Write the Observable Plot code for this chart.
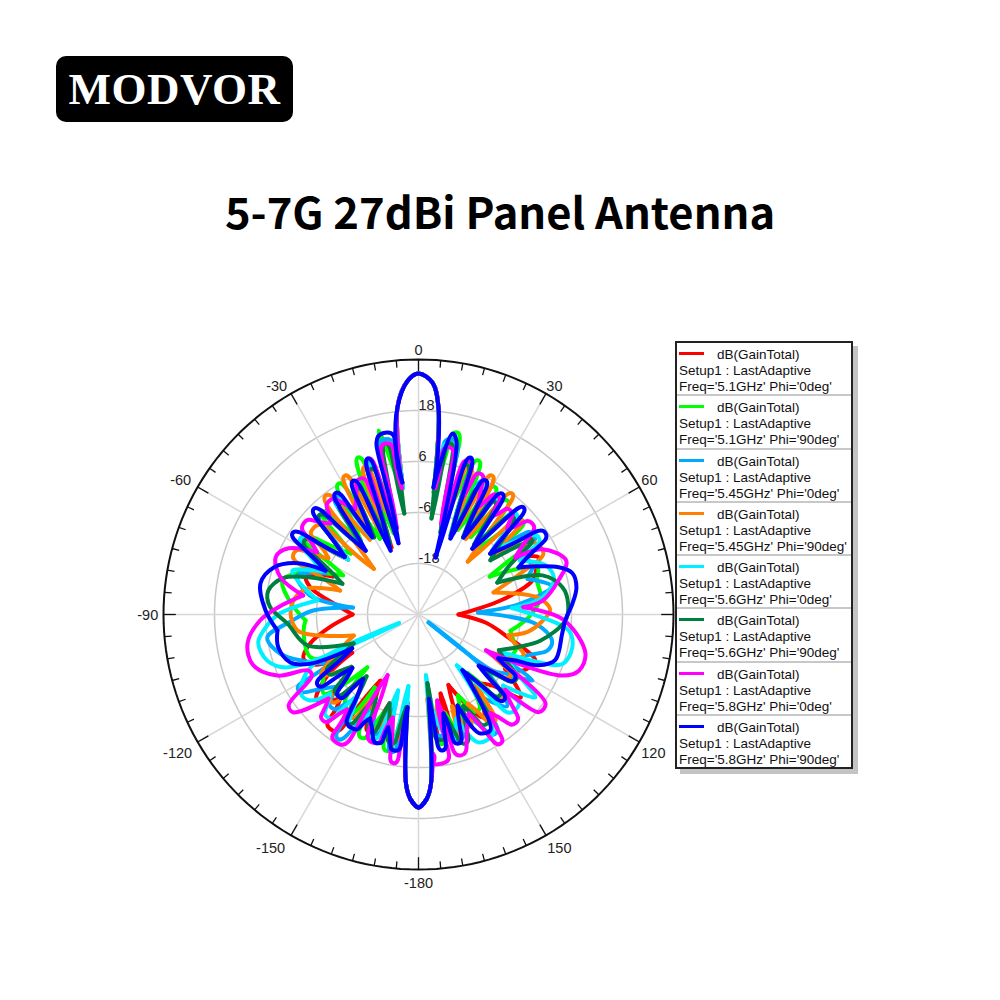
<!DOCTYPE html>
<html>
<head>
<meta charset="utf-8">
<script src="https://cdn.jsdelivr.net/npm/d3@7"></script>
<script src="https://cdn.jsdelivr.net/npm/@observablehq/plot@0.6"></script>
<style>
html,body{margin:0;padding:0;background:#fff}
#page{position:relative;width:1000px;height:1000px;overflow:hidden}
#logo{position:absolute;left:56px;top:56px;width:237px;height:66px;background:#000;border-radius:10px;color:#fff;
 font:bold 45px "Liberation Serif",serif;line-height:66px;text-align:center;letter-spacing:.5px}
#title{position:absolute;left:0;top:179px;width:1000px;text-align:center;font:bold 43.5px "Noto Sans CJK SC","Noto Sans",sans-serif;line-height:64px;color:#000}
#chart{position:absolute;left:0;top:330px}
#legend{position:absolute;left:675px;top:341px;width:174px;height:424px;border:2px solid #222;background:#fff;box-shadow:5px 5px 0 #c4c4c4;
 font:13.5px "Liberation Sans",Arial,sans-serif;color:#111;overflow:hidden}
.row{position:relative;height:53.3px;box-sizing:border-box;border-bottom:2px solid #c8c8c8}
.row:last-child{border-bottom:none}
.row i{position:absolute;left:2px;top:9px;width:25px;height:3px}
.row span{position:absolute;left:2px;white-space:nowrap}
</style>
</head>
<body>
<div id="page">
<div id="logo">MODVOR</div>
<div id="title">5-7G 27dBi Panel Antenna</div>
<div id="chart"></div>
<div id="legend"></div>
</div>
<script>
const seriesFreq = ["5.1GHz","5.1GHz","5.45GHz","5.45GHz","5.6GHz","5.6GHz","5.8GHz","5.8GHz"];
const seriesPhi = ["0deg","90deg","0deg","90deg","0deg","90deg","0deg","90deg"];
const seriesColors = ["#ff0000","#00ff00","#00aaff","#ff8000","#00f0ff","#008040","#ff00ff","#0000ff"];

const mainLobe = [[-5.8,19],[-2.7,25],[0,26.7],[3.5,24.6],[5.5,19]];
const backStart = [[-182.5,13.5],[-180,15.4],[-177.5,13.5],[-175.8,10]];
const backEnd = [[175.8,10],[177.5,13.5],[180,15.4],[182.5,13.5]];

const gainRed = [...backStart,[-173,-9],[-168,0],[-162,-8],[-157,0],[-150,-12],[-143,4],[-137,-3],[-130,1.3],[-124,-4],[-120,-12],[-116,-3],[-111,-1],[-105,-3.6],[-98,-9],[-90,-14.5],[-84,-11],[-76,-3.8],[-71,-2],[-66,-8],[-57,3],[-52,-9],[-45,3],[-40,-9],[-35,3],[-30,-9],[-26,4],[-22,-13],[-18,7],[-15,-7],[-10.5,10],[-7,1],
 ...mainLobe,[7,1],[10.5,11],[15,-6],[18,7],[22,-9],[26,4],[30,-8],[35,3],[39,-9],[44,2],[50,-7],[55,2],[60,-3],[64.6,1.3],[68,0],[73.4,-2],[80,-10],[90,-20.6],[97,-14],[103.6,-8.9],[111.5,-0.4],[115,-1],[118,-2],[122,-6],[129,1],[134,-6],[140,-9],[147.6,-1.3],[152,-6],[157,-12],[162,0],[164.4,-10.7],[169,0],[173,-9],...backEnd];

const gainLime = [...backStart,[-172.5,-9],[-167,3],[-161,-6],[-155,2],[-149,-10],[-146,-2],[-140,-3],[-136,-12.7],[-130,-1],[-122,-4],[-117,-8],[-111.7,-2.7],[-98,-2.7],[-93,-3.4],[-85,0.1],[-76,3],[-71,0],[-62.5,-10],[-56,2],[-48,-8.6],[-43,3],[-38,-8],[-31.4,6.1],[-27,-10],[-21,9.6],[-17,-10],[-12.3,14.3],[-9,3],[-7,0],
 ...mainLobe,[7,-1],[12,13.8],[15,-6],[21.3,8.9],[25,-8],[31,5],[34,-8],[38,4],[42,-9],[48,3],[52,-7],[56,3],[62,-11],[68.4,0.1],[74,-1],[82,-1],[91.5,-4.1],[100,-8],[112,-5.8],[118,-10],[124,-3],[130,-9],[135,-3],[140,-12],[148.4,-3.4],[154,-8.8],[160,0],[165,-6],[170,1],[173,-10],...backEnd];

const gainSky = [...backStart,[-172,-9],[-169,3],[-165,-8],[-160,0],[-155,-6],[-147,4.9],[-143,-5],[-137,0],[-131,-4],[-122,3.4],[-119,-6],[-112,-0.8],[-106,3.7],[-98.7,6],[-93,0],[-88,-5],[-84,-14.5],[-80,-4],[-72,0],[-66,-6],[-57,3],[-52,-8],[-45,3],[-40,-9],[-35,4],[-31,-8],[-26,4],[-22,-12],[-18,8],[-15,-9],[-11,12],[-7,1],
 ...mainLobe,[7,1],[11,12],[15,-9],[18,8],[22,-10],[26,5],[30,-8],[35,3],[39,-9],[44,3],[49,-7],[55,3],[60,-2],[66,-1],[72,-3],[78,2],[84,-6],[88,-16],[94.4,-2.5],[101,2],[105.6,1.5],[111,-3],[118,-6],[120,1],[124,-5],[127,-8],[128.5,-27],[130,-9],[136,0],[142,-5],[147,3.4],[155,-4],[162,1],[166,-5],[170,-1],[173,-12],...backEnd];

const gainOrange = [...backStart,[-173,-8],[-169,0],[-164,-6],[-158,-1],[-152,-8],[-146.6,-1],[-140,-10],[-135,-1],[-128,-10],[-122,-3],[-115,-9],[-108,-14],[-101.7,-5.8],[-97.5,-1.3],[-89.5,0.1],[-82,-0.8],[-76.8,-3.2],[-73,-10.7],[-64,2.7],[-58,-5],[-50,2],[-44.4,-15],[-38,5.5],[-33,-9],[-28,7],[-24,-10],[-20,7],[-16,-8],[-11,11],[-7,0],
 ...mainLobe,[7,0],[11,11],[16,-8],[19,7],[24,-8],[28,7],[32,-9],[37.8,6],[43,-13],[47,3],[52,-8],[58,2],[64,2.7],[68,-4],[73.6,-11.6],[82,-1.5],[88,1],[93,-0.8],[99,-4],[103,-8.3],[112.5,-3.5],[118,-11],[124,-4],[130,-11],[135,-2],[140,-9],[145,1],[151,-6],[156,-1],[160,-7],[163,0.2],[168,-9],[172,-4],[174,-10],...backEnd];

const gainCyan = [...backStart,[-172,-13],[-168,0],[-165,-11.5],[-160,1],[-155,-5],[-149,1],[-143,-6],[-138.5,2.3],[-132,-2],[-128.5,2.5],[-124,3.4],[-116,-1.8],[-114,-25],[-112,3.2],[-107,7.2],[-100,8.3],[-96,6.7],[-90,3],[-82,-6],[-75,-1],[-70.8,1.4],[-66,-5],[-57,3],[-52,-9],[-45,3],[-40,-9],[-35,3],[-31,-9],[-26,3],[-22,-11],[-18,7],[-15,-8],[-10.8,11],[-7,0],
 ...mainLobe,[7,0],[10.8,11],[15,-10],[18,7],[22,-9],[26,4],[30,-8],[34,3],[39,-8],[44,3],[49,-6],[57.3,3.6],[62,-3],[68.6,2],[75,3],[82.2,-0.6],[86,-8],[90,-3],[96,5.5],[102,7],[109,5.8],[112,-1],[114,-8],[120,-4],[125.4,3.7],[130,-4],[134.7,2],[143,-15],[148,3],[155,3.2],[160,-4],[165,1],[170,-4],[173,-15.6],...backEnd];

const gainDarkGreen = [...backStart,[-172.5,-8],[-168,1],[-162,-8],[-158,0],[-153,-8],[-147,0.6],[-140,-11],[-134,-3],[-128,-10],[-122.5,-4.6],[-114,-13.3],[-105.6,-2.9],[-94,0.9],[-87,5],[-81,5.8],[-75,3],[-71,-3.2],[-68,-10.7],[-57,2],[-52,-8],[-45,3],[-40,-9],[-35,2],[-30,-9],[-26,3],[-22,-12],[-18,6],[-15,-9],[-11,11],[-8,-6],
 ...mainLobe,[7.7,-7.2],[10.6,11],[15,-10],[18,7],[22.5,-10],[26,3],[30,-9],[34,2],[38.5,-9],[44,2],[53,-8.8],[57,2],[62,-6],[68,-10],[72.5,0.6],[79.4,4.5],[85.8,5.3],[92.3,4.6],[102,-0.6],[108,-5.3],[114,-9.3],[124,-2.4],[130,-10],[135,-3],[141,-12],[147.7,0.4],[154,-6],[160,2.3],[166,-6],[170,0],[172.6,-13.7],...backEnd];

const gainMagenta = [...backStart,[-173,-6],[-170.5,5.5],[-166,-5],[-160,2],[-153,-14],[-148,5.8],[-143,-2],[-138,3.6],[-133,-1],[-128,7.4],[-125,7.3],[-120,-1],[-117,-1],[-113.4,6.2],[-107,10.7],[-99.6,10.8],[-92,7.2],[-87,3],[-80.6,-2.5],[-75,3.6],[-68,6.2],[-63,4.3],[-58.4,-2],[-51.6,4.5],[-44,-0.2],[-38,4],[-31,-1],[-23,4.8],[-20,-4],[-17.8,8.6],[-14,-9],[-11,11],[-7.5,0],
 ...mainLobe,[7.5,0],[10.5,10],[14,-8],[18,8],[20.5,-1],[23.7,6.2],[29,-1],[33.6,3.6],[37,-1],[41.5,2.7],[46,-1],[51.4,4.3],[59.6,-3.6],[62.3,3],[70,7],[76.3,3.9],[83.6,-0.6],[86,-5.3],[92,4.1],[103,10.3],[109.3,10],[113,6.8],[116,-2.8],[118,-12],[125,6.5],[129,6.5],[131,-3],[138,4.3],[144,-1.3],[147.6,6],[153,-3.9],[163.4,4.6],[167.7,-9.3],[171,5.5],[174,3],...backEnd];

const gainBlue = [...backStart,[-173.3,-8],[-170.4,2.5],[-165,-2.5],[-162.4,1.8],[-155,-3],[-149,1],[-139.3,-10],[-136,-3],[-129,-10],[-125,-1],[-117,-12.5],[-114.4,-2],[-110.5,2.2],[-103,3.9],[-96.5,3.4],[-88.5,6],[-78.9,7.9],[-72,5.8],[-67,0.9],[-64.7,-5.8],[-57,5.3],[-52,-8],[-44.7,5],[-39.6,-10.5],[-34.4,4.6],[-30.9,-8.8],[-25.9,5],[-23.6,-13.6],[-18,8.6],[-15.7,-12.6],[-10.9,13.5],[-7,1.3],[-7.6,10.7],
 ...mainLobe,[6.9,7.2],[6.7,0.1],[10.6,13.3],[12.3,11.9],[16.6,-16],[18.3,8.9],[22.8,-10.6],[26.6,5.3],[30.3,-9],[34.8,4.6],[39.3,-10],[44.5,5.3],[49.7,-7.9],[57.2,5.5],[64.8,-4],[71.4,4.8],[75,7.5],[80.3,7.7],[86,6.3],[92,4.6],[97.5,4.1],[108.5,3.9],[113,0.6],[115.4,-4.8],[118.8,-8.6],[124,-2.7],[130.4,-11.4],[135,-1.5],[141.8,-13.3],[148,2],[153,1.3],[156.8,-6.7],[162.8,1.8],[165.8,-6],[170,2.5],[173,-10],...backEnd];

const allSeries = [gainRed,gainLime,gainSky,gainOrange,gainCyan,gainDarkGreen,gainMagenta,gainBlue];

const ringGains = [-18,-6,6,18];
const outerGain = 30;
const spokeAngles = [-150,-120,-90,-60,-30,0,30,60,90,120,150,180];
const angleLabels = [0,30,60,-30,-60,-90,120,150,-120,-150,-180];
const gainLabels = [18,6,-6,-18];

// polar helpers: the plotted radius is gain + 30 dB, zero at the pattern's centre
const radial = g => g + 30;
const px = (a,g) => radial(g)*Math.sin(a*Math.PI/180);
const py = (a,g) => radial(g)*Math.cos(a*Math.PI/180);
const circleAngles = d3.range(0,361,2);
const unit = 60/255;   // dB per pixel on the reference
const W = 1000, H = 570, cx = 418, cy = 284;

// each null is a cusp: the trace is cut there into separate lobes that share the null
function lobes(rows){
  const out=[]; let k=0;
  rows.forEach((p,i)=>{
    out.push({a:p[0],g:p[1],lobe:k});
    const a=rows[i-1],b=rows[i+1];
    if(a&&b&&p[1]<a[1]&&p[1]<b[1]){k++;out.push({a:p[0],g:p[1],lobe:k});}
  });
  return out;
}
// curve for one lobe: null, peak, null becomes a rounded hoop; longer lobes use Catmull-Rom
function lobeCurve(context){
  const inner = d3.curveCatmullRom(context);
  let pts = [];
  return {
    areaStart(){}, areaEnd(){},
    lineStart(){pts=[];},
    point(x,y){pts.push([+x,+y]);},
    lineEnd(){
      if(pts.length===3){
        const [A,P,B]=pts;
        const mx=(A[0]+B[0])/2,my=(A[1]+B[1])/2;
        let ax=P[0]-mx,ay=P[1]-my;const al=Math.hypot(ax,ay)||1;ax/=al;ay/=al;
        let nx=-ay,ny=ax;
        if(nx*(B[0]-A[0])+ny*(B[1]-A[1])<0){nx=-nx;ny=-ny;}
        const w=Math.max(0.32*Math.hypot(B[0]-A[0],B[1]-A[1]),7.5);
        context.moveTo(A[0],A[1]);
        context.bezierCurveTo(A[0]+0.65*(P[0]-A[0]),A[1]+0.65*(P[1]-A[1]),P[0]-nx*w,P[1]-ny*w,P[0],P[1]);
        context.bezierCurveTo(P[0]+nx*w,P[1]+ny*w,B[0]+0.65*(P[0]-B[0]),B[1]+0.65*(P[1]-B[1]),B[0],B[1]);
      } else {
        inner.lineStart();
        pts.forEach(p=>inner.point(p[0],p[1]));
        inner.lineEnd();
      }
    }
  };
}
const labelDx = a => a===0||a===-180?0 : a===-90?-3 : a<0?(Math.abs(a)>90?(a===-150?-14:-9):(a===-30?-8:-6)) : (a>90?(a===150?7:3):(a===30?2:-1));
const labelDy = a => a===0?4 : Math.abs(a)===30?4 : Math.abs(a)===60?0 : Math.abs(a)>90?(Math.abs(a)===180?1:(Math.abs(a)===150?2:5)) : 1;

const marks = [];
ringGains.forEach(g=>marks.push(Plot.line(circleAngles,{x:a=>px(a,g),y:a=>py(a,g),stroke:"#c8c8c8",strokeWidth:1.5})));
marks.push(Plot.link(spokeAngles,{x1:0,y1:0,x2:a=>px(a,outerGain),y2:a=>py(a,outerGain),stroke:"#d8d8d8",strokeWidth:1.5}));
marks.push(Plot.line(circleAngles,{x:a=>px(a,outerGain),y:a=>py(a,outerGain),stroke:"#111",strokeWidth:2}));
const tickAngles = d3.range(-175,181,5);
marks.push(Plot.link(tickAngles,{
  x1:a=>px(a,outerGain),y1:a=>py(a,outerGain),
  x2:a=>px(a,outerGain-(a%30===0?2.9:1.7)),y2:a=>py(a,outerGain-(a%30===0?2.9:1.7)),
  stroke:"#111",strokeWidth:1.3}));
marks.push(Plot.text(angleLabels,{x:a=>px(a,33)+labelDx(a)*unit,y:a=>py(a,33)-labelDy(a)*unit,text:a=>String(a),fontSize:14.5,fill:"#222"}));
marks.push(Plot.text(gainLabels,{x:0,y:g=>radial(g),text:g=>String(g),dy:-5,textAnchor:"start",fontSize:14.5,fill:"#222"}));
allSeries.forEach((rows,i)=>{
  marks.push(Plot.line(lobes(rows),{x:d=>px(d.a,d.g),y:d=>py(d.a,d.g),z:"lobe",stroke:seriesColors[i],strokeWidth:4,curve:lobeCurve,strokeLinejoin:"round",strokeLinecap:"round"}));
});

const chart = Plot.plot({
  width:W,height:H,margin:0,
  style:{background:"none",fontFamily:"'Liberation Sans',Arial,sans-serif"},
  x:{domain:[-cx*unit,(W-cx)*unit],range:[0,W],axis:null},
  y:{domain:[cy*unit,-(H-cy)*unit],range:[0,H],axis:null},
  marks
});
document.getElementById("chart").append(chart);

const legend = document.getElementById("legend");
seriesColors.forEach((c,i)=>{
  const row=document.createElement("div");row.className="row";
  row.innerHTML=`<i style="background:${c}"></i><span style="left:40px;top:4px">dB(GainTotal)</span><span style="top:20px">Setup1 : LastAdaptive</span><span style="top:36px">Freq='${seriesFreq[i]}' Phi='${seriesPhi[i]}'</span>`;
  legend.append(row);
});
</script>
</body>
</html>
